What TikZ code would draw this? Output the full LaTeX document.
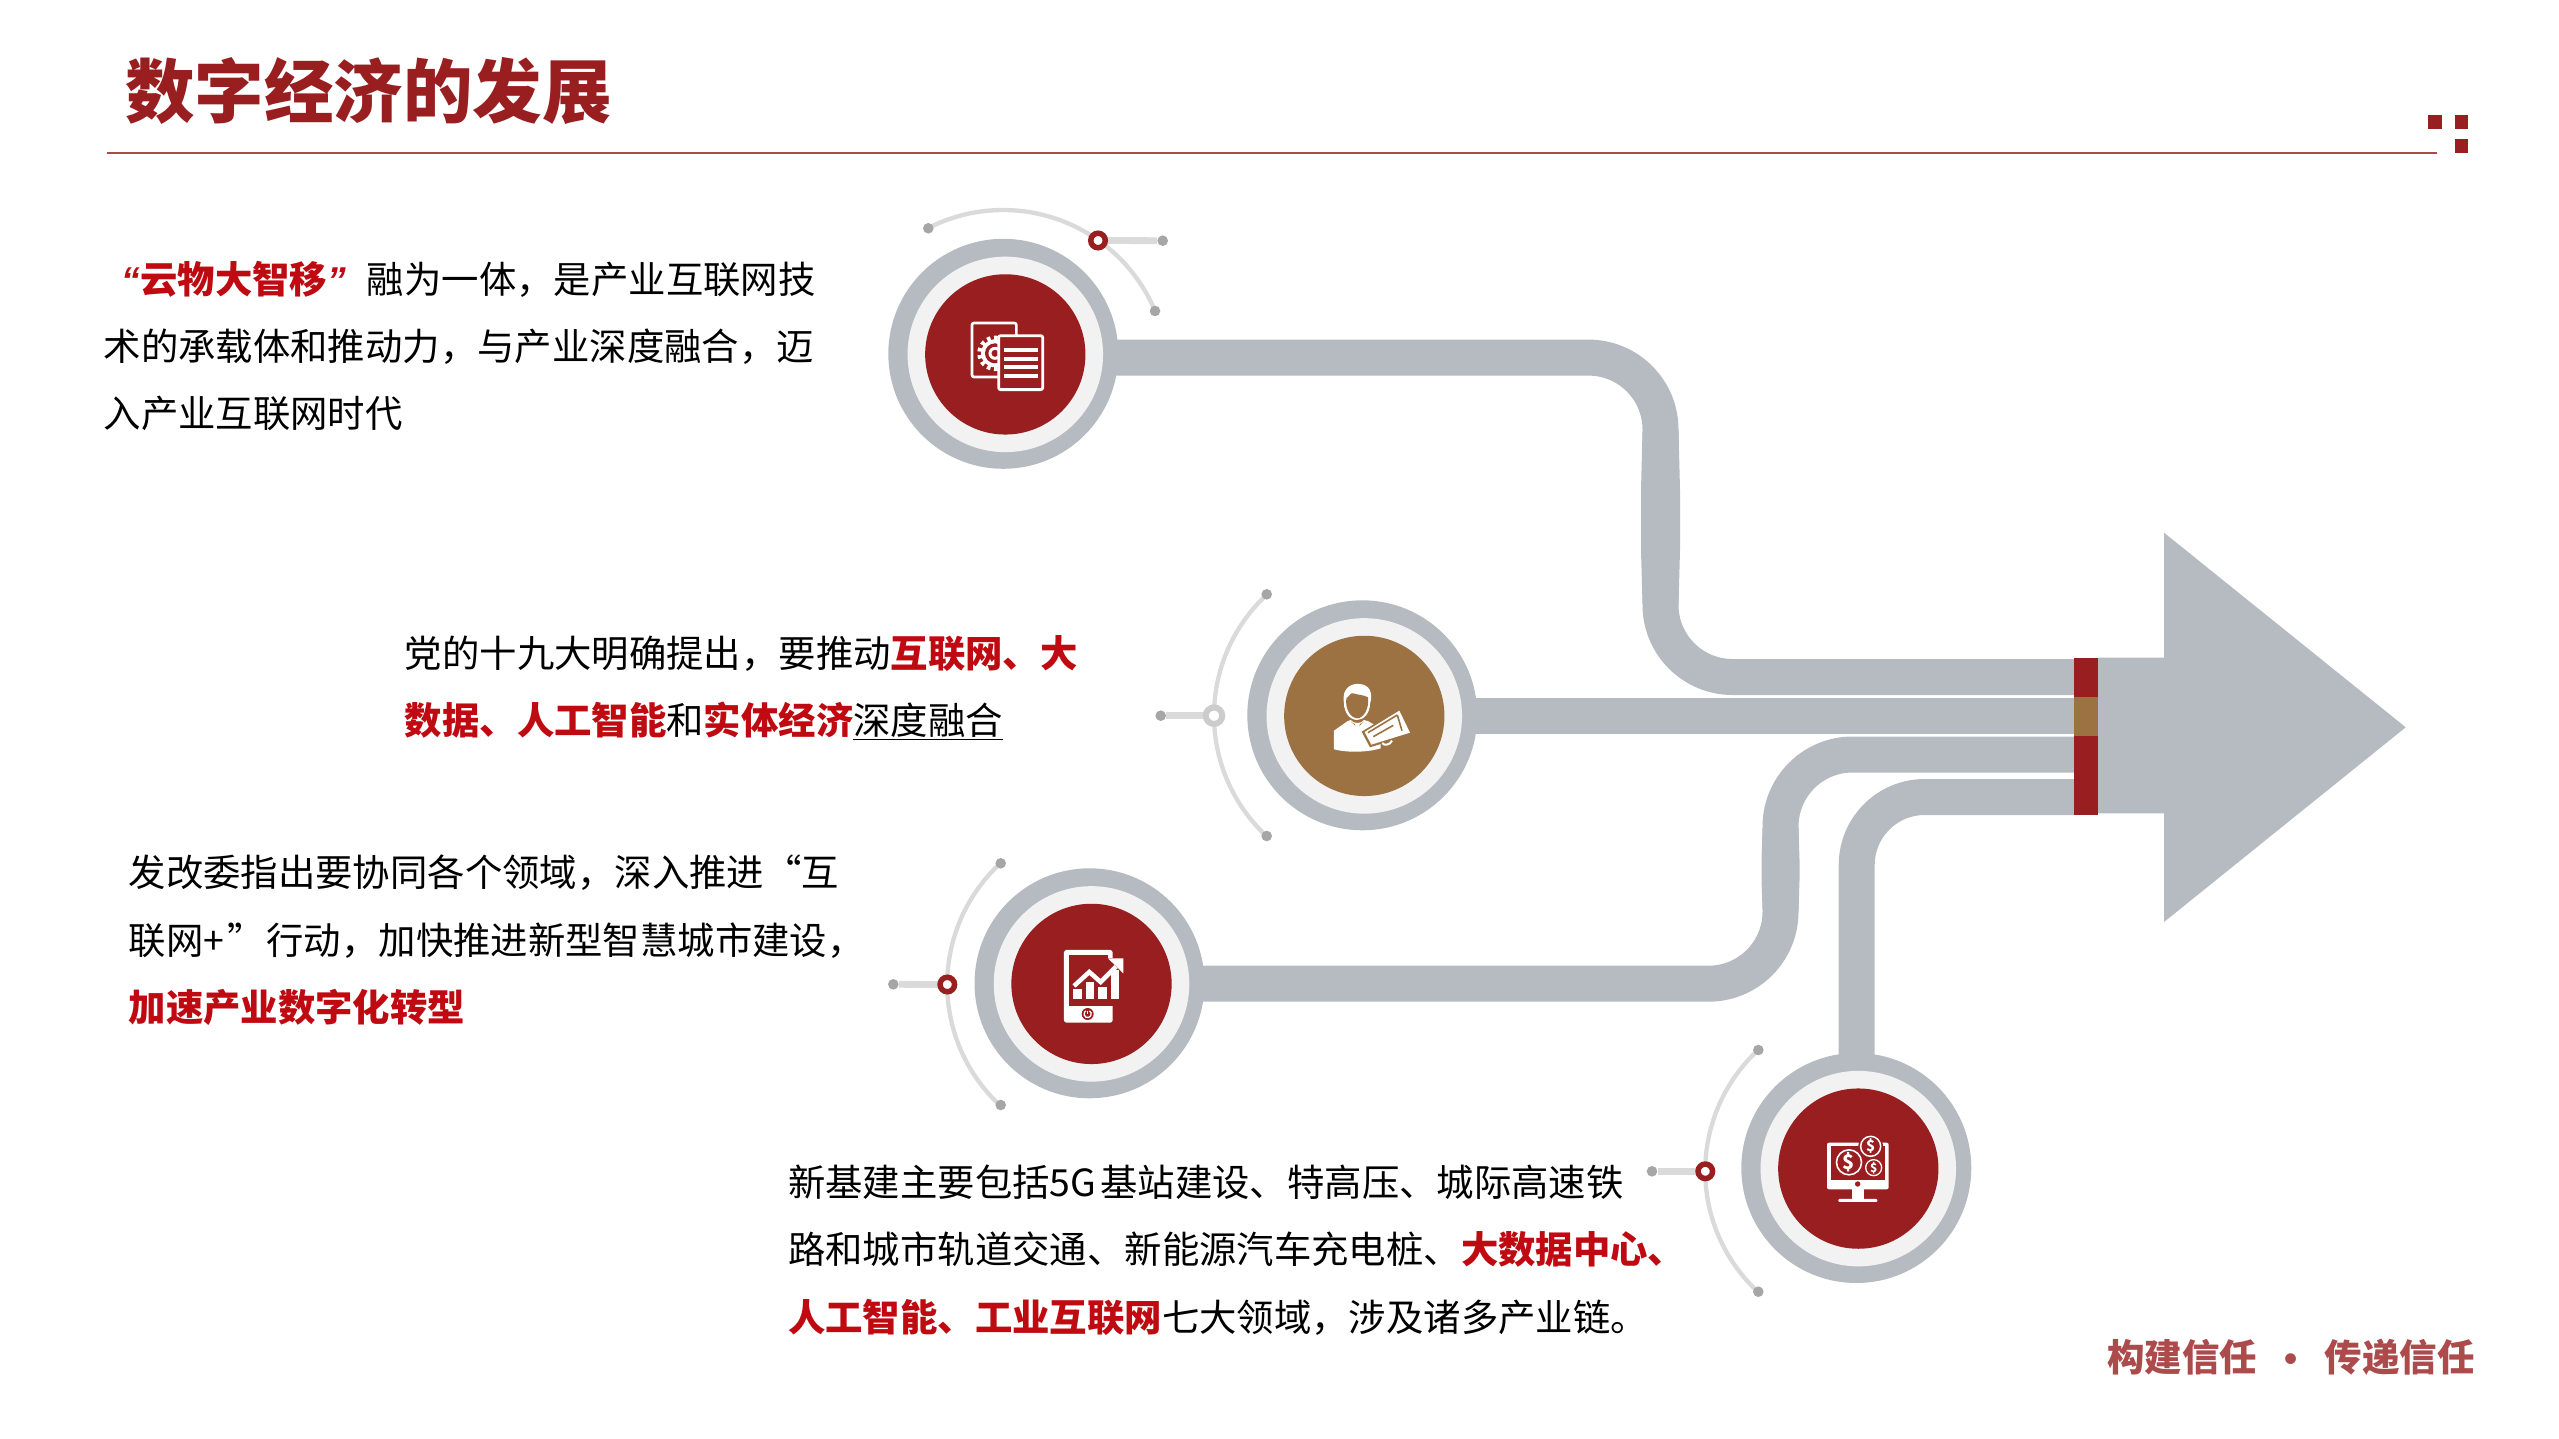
\documentclass[tikz,border=0pt]{standalone}
\usepackage{fontspec}
\setmainfont{Noto Sans CJK SC}
\newfontfamily\titlefont{Noto Sans CJK SC Black}
\newfontfamily\quotefont[BoldFont={Liberation Sans Bold},ItalicFont={Liberation Sans Italic},BoldItalicFont={Liberation Sans Bold Italic}]{Liberation Sans}
\usetikzlibrary{calc}
\definecolor{hubred}{HTML}{981E20}
\definecolor{hubbrown}{HTML}{9C7243}
\definecolor{pipegray}{HTML}{B6BBC2}
\definecolor{hubpale}{HTML}{F2F2F2}
\definecolor{arcgray}{HTML}{DADADA}
\definecolor{dotgray}{HTML}{A6A6A6}
\definecolor{txtred}{HTML}{BE0A10}
\newcommand{\hl}[1]{{\bfseries\color{txtred}#1}}
\tikzset{
  pipe/.style={draw=pipegray,line width=36pt,rounded corners=72pt},
  hubouter/.style={circle,fill=pipegray,minimum size=230pt,inner sep=0pt},
  hubmid/.style={circle,fill=hubpale,minimum size=195.5pt,inner sep=0pt,xshift=2pt,yshift=-.6pt},
  hubinner/.style={circle,minimum size=160.3pt,inner sep=0pt,xshift=2pt,yshift=-.6pt},
  arcline/.style={draw=arcgray,line width=4.3pt},
  stub/.style={draw=arcgray,line width=6.8pt},
  enddot/.style={circle,fill=dotgray,minimum size=10.6pt,inner sep=0pt},
  redring/.style={circle,draw=hubred,fill=white,line width=5.5pt,minimum size=14.5pt,inner sep=0pt},
  grayring/.style={circle,draw=black!20,fill=white,line width=6pt,minimum size=16.5pt,inner sep=0pt},
  body/.style={anchor=north west,align=left,inner sep=0pt,font=\fontsize{37.38pt}{67.2pt}\selectfont,text=black},
  wfill/.style={fill=white,draw=none},
}
\begin{document}
\begin{tikzpicture}[x=1pt,y=-1pt]
\useasboundingbox (0,0) rectangle (2559,1439);
\fill[white] (0,0) rectangle (2559,1439);
% header
\node[anchor=west,inner sep=0pt,font=\titlefont\fontsize{69.5pt}{70pt}\selectfont,text=hubred] (title) at (125,91) {数字经济的发展};
\coordinate (ruleL) at (107,153.4);
\coordinate (ruleR) at (2437,153.4);
\draw[hubred!80,line width=1.8pt] (ruleL) -- (ruleR);
\fill[hubred] (2428,115) rectangle (2442,129.3);
\fill[hubred] (2454.7,115) rectangle (2468,129.3);
\fill[hubred] (2454.7,139) rectangle (2468,153.3);
% hubs anchors
\coordinate (barT) at (2074,677);
\coordinate (barM) at (2074,715.5);
\coordinate (barL) at (2074,754.5);
\coordinate (barB) at (2074,797);
% pipes
\draw[pipe] (1003,357.6) -- (1660.5,357.6) -- (1660.5,677) -- (barT);
\fill[pipegray] (1642.5,431) -- (1641,490) -- (1641,550) -- (1642.5,604) -- (1678.5,604) -- (1680,550) -- (1680,490) -- (1678.5,431) -- cycle;
\draw[pipe] (1362,715.5) -- (barM);
\draw[pipe] (1089,983.7) -- (1780.5,983.7) -- (1780.5,754.5) -- (barL);
\fill[pipegray] (1762.5,828) -- (1761.5,860) -- (1761.5,880) -- (1762.5,910) -- (1798.5,910) -- (1799.5,880) -- (1799.5,860) -- (1798.5,828) -- cycle;
\draw[pipe,rounded corners=68pt] (1856.7,1168) -- (1856.7,797) -- (barB);
% arrow
\fill[pipegray] (2098,657.7) -- (2164,657.7) -- (2164,532.7) -- (2405.7,727.3) -- (2164,922) -- (2164,813.3) -- (2098,813.3) -- cycle;
% bar
\fill[hubred] (2074,658) rectangle (2098,697);
\fill[hubbrown] (2074,697) rectangle (2098,736);
\fill[hubred] (2074,736) rectangle (2098,815);
% hub 1
\node[hubouter] (c1) at (1003.3,353.8) {};
\node[hubmid] (c1m) at (c1) {};
\node[hubinner,fill=hubred] (c1i) at (c1) {};
% hub 2
\node[hubouter] (c2) at (1362.3,715.3) {};
\node[hubmid] (c2m) at (c2) {};
\node[hubinner,fill=hubbrown] (c2i) at (c2) {};
% hub 3
\node[hubouter] (c3) at (1089.5,983.3) {};
\node[hubmid] (c3m) at (c3) {};
\node[hubinner,fill=hubred] (c3i) at (c3) {};
% hub 4
\node[hubouter] (c4) at (1856.3,1168) {};
\node[hubmid] (c4m) at (c4) {};
\node[hubinner,fill=hubred] (c4i) at (c4) {};
% arcs
\coordinate (a1) at (1003.1,374.8);
\coordinate (a2) at (1378.8,715.5);
\coordinate (a3) at (1112,984.5);
\coordinate (a4) at (1870,1171);
\draw[arcline] (a1) ++(117:164.8pt) arc[start angle=117,end angle=23,radius=164.8pt];
\draw[arcline] (a2) ++(133:164.8pt) arc[start angle=133,end angle=227,radius=164.8pt];
\draw[arcline] (a3) ++(133:164.8pt) arc[start angle=133,end angle=227,radius=164.8pt];
\draw[arcline] (a4) ++(133:164.8pt) arc[start angle=133,end angle=227,radius=164.8pt];
\node[enddot] (d1a) at (928.3,228.3) {};
\node[enddot] (d1b) at (1155,311) {};
\node[enddot] (d1c) at (1162.7,240.7) {};
\node[enddot] (d2a) at (1266.7,594.3) {};
\node[enddot] (d2b) at (1266.7,836) {};
\node[enddot] (d2c) at (1160.7,715.7) {};
\node[enddot] (d3a) at (1000.7,863.3) {};
\node[enddot] (d3b) at (1000.7,1105) {};
\node[enddot] (d3c) at (893.3,984.3) {};
\node[enddot] (d4a) at (1758.3,1050) {};
\node[enddot] (d4b) at (1758.3,1291.7) {};
\node[enddot] (d4c) at (1652,1171.3) {};
\coordinate (r1p) at (1098,240.5);
\coordinate (r2p) at (1214,715.7);
\coordinate (r3p) at (947.3,984.5);
\coordinate (r4p) at (1705.3,1171.3);
\draw[stub] (r1p) -- (d1c);
\draw[stub] (r2p) -- (d2c);
\draw[stub] (r3p) -- (d3c);
\draw[stub] (r4p) -- (d4c);
\node[redring] (r1) at (r1p) {};
\node[grayring] (r2) at (r2p) {};
\node[redring] (r3) at (r3p) {};
\node[redring] (r4) at (r4p) {};
% icon 1
\begin{scope}[xshift=860pt,yshift=-190pt,x=.3333pt,y=-.3333pt]
\draw[white,line width=2.6pt,rounded corners=2pt,fill=hubred] (336,399) rectangle (469,561);
\coordinate (gear) at (405,490);
\draw[white,line width=4.5pt,dash pattern=on 3.6pt off 3.6pt] (gear) circle[radius=15.5pt];
\fill[white] (gear) circle[radius=14pt];
\fill[hubred] (gear) circle[radius=10pt];
\fill[white] (gear) circle[radius=6.5pt];
\fill[hubred] (gear) circle[radius=3.5pt];
\draw[white,line width=2.8pt,rounded corners=2pt,fill=hubred] (416,437) rectangle (548,599);
\fill[white] (432,474) rectangle (535,487);
\fill[white] (432,500) rectangle (535,513);
\fill[white] (432,526) rectangle (535,538);
\fill[white] (432,551) rectangle (535,563);
\end{scope}
% icon 2
\begin{scope}[xshift=1140pt,yshift=-580pt,x=.3333pt,y=-.3333pt]
\path[wfill] (582,452) -- (622,424) -- (632,420) .. controls (640,432) and (665,432) .. (672,420) -- (685,424) -- (722,445) -- (722,505) .. controls (680,518) and (620,518) .. (582,508) -- cycle;
\path[fill=hubbrown] (632,424) .. controls (640,436) and (665,436) .. (672,424) -- (652,444) -- cycle;
\path[wfill] (644,430) -- (660,430) -- (657,444) -- (664,462) -- (652,476) -- (641,462) -- (648,444) -- cycle;
\path[wfill] (612,370) .. controls (603,320) and (640,310) .. (655,312) .. controls (690,312) and (700,340) .. (690,372) .. controls (690,400) and (670,420) .. (652,420) .. controls (630,420) and (612,398) .. (612,370) -- cycle;
\path[fill=hubbrown] (619,355) .. controls (628,350) and (632,336) .. (640,340) .. controls (655,345) and (672,345) .. (684,352) .. controls (688,385) and (672,414) .. (652,415) .. controls (632,414) and (615,388) .. (619,355) -- cycle;
\path[fill=hubbrown] (665,455) -- (782,384) -- (820,462) -- (690,502) -- cycle;
\path[wfill] (674,456) -- (778,392) -- (810,458) -- (694,494) -- cycle;
\draw[hubbrown,line width=1.6pt] (684,458) -- (772,405);
\draw[hubbrown,line width=1.6pt] (772,405) -- (786,452);
\draw[hubbrown,line width=1.6pt] (700,470) -- (760,436);
\draw[white,line width=2pt] (727,489) .. controls (730,497) and (750,497) .. (756,482);
\end{scope}
% icon 3
\begin{scope}[xshift=880pt,yshift=-850pt,x=.3333pt,y=-.3333pt]
\fill[white,rounded corners=2.5pt] (552,300) rectangle (698,518);
\fill[hubred] (568,315) rectangle (684,468);
\fill[hubred] (684,325) rectangle (700,468);
\fill[white] (693,360) rectangle (717,447);
\fill[white] (655,410) rectangle (680,447);
\fill[white] (618,395) rectangle (643,447);
\fill[white] (580,418) rectangle (605,447);
\draw[hubred,line width=7pt] (575,400) -- (628,350) -- (662,380) -- (705,335);
\draw[white,line width=4.5pt] (582,408) -- (628,366) -- (662,396) -- (708,350);
\fill[white] (684,325) -- (730,325) -- (730,370) -- cycle;
\fill[hubred] (684,333) -- (697,343) -- (684,355) -- cycle;
\fill[hubred] (623,492) circle[radius=6pt];
\draw[white,line width=1.3pt] (623,492) ++(60:3.6pt) arc[start angle=60,end angle=-240,radius=3.6pt];
\draw[white,line width=1.3pt] (623,482) -- (623,492);
\end{scope}
% icon 4
\begin{scope}[xshift=1680pt,yshift=-1030pt,x=.3333pt,y=-.3333pt]
\fill[white,rounded corners=2pt] (441,338) rectangle (626,478);
\fill[hubred] (452,348) rectangle (615,450);
\fill[hubred] (533,462) circle[radius=2.7pt];
\fill[white] (515,478) rectangle (553,507);
\fill[white,rounded corners=1pt] (475,507) rectangle (592,516);
\coordinate (ca) at (507,397);
\coordinate (cb) at (572,349);
\coordinate (cc) at (581,413);
\fill[hubred] (ca) circle[radius=15.5pt];
\fill[hubred] (cb) circle[radius=12.5pt];
\fill[hubred] (cc) circle[radius=10.5pt];
\draw[white,line width=1.6pt] (ca) circle[radius=12.5pt];
\draw[white,line width=1.5pt] (cb) circle[radius=10pt];
\draw[white,line width=1.3pt] (cc) circle[radius=8pt];
\node[text=white,inner sep=0pt,font=\bfseries\fontsize{20pt}{20pt}\selectfont] (sa) at (ca) {\$};
\node[text=white,inner sep=0pt,font=\bfseries\fontsize{15pt}{15pt}\selectfont] (sb) at (cb) {\$};
\node[text=white,inner sep=0pt,font=\bfseries\fontsize{12pt}{12pt}\selectfont] (sc) at (cc) {\$};
\end{scope}
% texts
\node[body] (t1) at (103.5,261) {\hspace{18pt}{\quotefont\bfseries\itshape\color{txtred}“}\hl{云物大智移}{\quotefont\bfseries\itshape\color{txtred}”}\hspace{21pt}融为一体，是产业互联网技\\术的承载体和推动力，与产业深度融合，迈\\入产业互联网时代};
\node[body] (t2) at (404.7,635) {党的十九大明确提出，要推动\hl{互联网、大}\\\hl{数据、人工智能}和\hl{实体经济}\underline{深度融合}};
\node[body] (t3) at (128.5,855) {发改委指出要协同各个领域，深入推进“互\\联网+\hspace{3pt}”\hspace{2pt}行动，加快推进新型智慧城市建设，\\\hl{加速产业数字化转型}};
\node[body] (t4) at (788,1165) {新基建主要包括5G\hspace{4pt}基站建设、特高压、城际高速铁\\路和城市轨道交通、新能源汽车充电桩、\hl{大数据中心、}\\\hl{人工智能、工业互联网}七大领域，涉及诸多产业链。};
\node[inner sep=0pt,font=\bfseries\fontsize{37.5pt}{38pt}\selectfont,text=hubred!80] (foot) at (2291,1357) {构建信任\hspace{27pt}{\quotefont •}\hspace{27pt}传递信任};
\end{tikzpicture}
\end{document}
